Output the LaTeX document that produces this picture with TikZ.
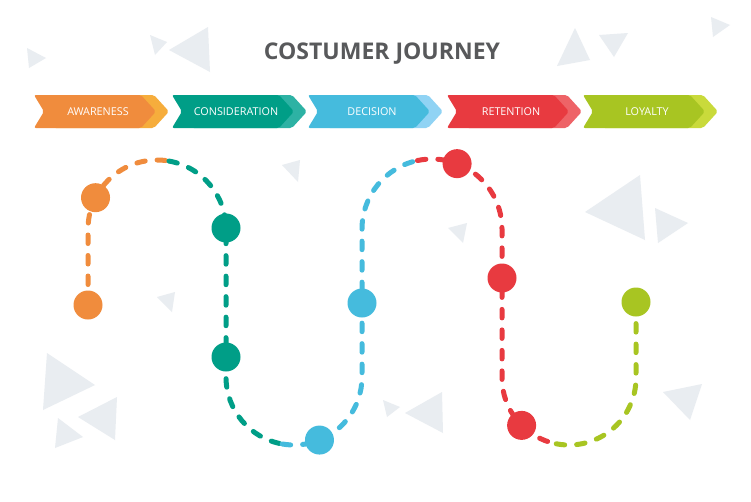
\documentclass[tikz,border=0pt]{standalone}
\usepackage{fontspec}
\setmainfont{Open Sans}
\usetikzlibrary{calc}

\definecolor{titleC}{HTML}{58595B}
\definecolor{decoC}{HTML}{E9EDF1}
\definecolor{awareC}{HTML}{F08C3D}
\definecolor{awareL}{HTML}{F6AD3C}
\definecolor{considC}{HTML}{009E87}
\definecolor{considL}{HTML}{2DB2A4}
\definecolor{decisC}{HTML}{45BBDD}
\definecolor{decisL}{HTML}{90D3F4}
\definecolor{retentC}{HTML}{E83A40}
\definecolor{retentL}{HTML}{EE6367}
\definecolor{loyalC}{HTML}{A8C522}
\definecolor{loyalL}{HTML}{C9DA3B}

\pgfdeclarelayer{bg}
\pgfsetlayers{bg,main}

\begin{document}
\begin{tikzpicture}[x=1pt, y=-1pt,
    dot/.style={circle, inner sep=0pt, minimum size=29pt},
    stage/.style={text=white, font=\fontsize{10.8}{12}\selectfont, inner sep=0pt},
    trail/.style={line width=5pt, dash pattern=on 8.5pt off 12pt, line cap=round},
    deco/.style={fill=decoC},
  ]
  \useasboundingbox (0,0) rectangle (751,501);

  % ----- Title -----
  \node[font=\fontsize{23}{26}\selectfont\bfseries, text=titleC, anchor=base] (title) at (382,59) {COSTUMER JOURNEY};

  % ----- Stage chevrons -----
  \foreach \x/\name/\lbl/\col/\lite in {34/aware/AWARENESS/awareC/awareL,
      172/consid/CONSIDERATION/considC/considL,
      308/decis/DECISION/decisC/decisL,
      447/retent/RETENTION/retentC/retentL,
      583/loyal/LOYALTY/loyalC/loyalL}{
    \fill[\lite, rounded corners=2pt] (\x+20,95) -- (\x+120,95) -- (\x+135,111.5) -- (\x+120,128) -- (\x+20,128) -- cycle;
    \fill[\col, rounded corners=2pt] (\x,95) -- (\x+107,95) -- (\x+122,111.5) -- (\x+107,128) -- (\x,128) -- (\x+10,111.5) -- cycle;
    \node[stage] (\name) at (\x+64,112) {\lbl};
  }

  % ----- Arc centres of the journey -----
  \coordinate (c1) at (157,229);
  \coordinate (c2) at (294,377);
  \coordinate (c3) at (432,229);
  \coordinate (c4) at (569,378);

  % ----- Milestones -----
  \node[dot, fill=awareC] (aw1) at (88,305) {};
  \node[dot, fill=awareC] (aw2) at ($(c1)+(207:69)$) {};
  \node[dot, fill=considC] (cn1) at (226,228) {};
  \node[dot, fill=considC] (cn2) at (226,357) {};
  \node[dot, fill=decisC] (de1) at ($(c2)+(68:68)$) {};
  \node[dot, fill=decisC] (de2) at (362,303) {};
  \node[dot, fill=retentC] (re1) at ($(c3)+(291:70)$) {};
  \node[dot, fill=retentC] (re2) at (502,278) {};
  \node[dot, fill=retentC] (re3) at ($(c4)+(135:67)$) {};
  \node[dot, fill=loyalC] (lo1) at (636,302) {};

  \begin{pgfonlayer}{bg}
    \fill[white] (0,0) rectangle (751,501);
    % background triangles
    \foreach \ax/\ay/\bx/\by/\cx/\cy in {27/48/46/58/29/68, 150/35/167/42/155/55,
        169/50/208/27/210/72, 575/28/557/66/590/60, 599/35/628/33/614/57,
        711/17/730/25/713/37, 585/212/640/175/645/240, 655/208/688/223/658/243,
        47/353/95/385/43/410, 117/397/78/417/115/440, 58/418/83/437/55/448,
        383/400/400/407/387/417, 442/392/405/413/443/433, 663/392/702/384/690/420,
        282/165/300/160/298/182, 448/228/467/223/463/243, 157/297/175/292/172/312}
      \fill[deco] (\ax,\ay) -- (\bx,\by) -- (\cx,\cy) -- cycle;

    % journey trail
    \draw[trail, awareC] (aw1.center) -- (aw1.center |- c1) arc[start angle=180, end angle=280, radius=69];
    \draw[trail, considC] ($(c1)+(280:69)$) arc[start angle=280, end angle=360, radius=69] -- (cn2.center) -- (cn2.center |- c2) arc[start angle=180, end angle=100, radius=68];
    \draw[trail, decisC] ($(c2)+(100:68)$) arc[start angle=100, end angle=0, radius=68] -- (de2.center) -- (de2.center |- c3) arc[start angle=180, end angle=258, radius=70];
    \draw[trail, retentC] ($(c3)+(258:70)$) arc[start angle=258, end angle=360, radius=70] -- (re2.center) -- (re2.center |- c4) arc[start angle=180, end angle=101, radius=67];
    \draw[trail, loyalC] ($(c4)+(101:67)$) arc[start angle=101, end angle=0, radius=67] -- (lo1.center);
  \end{pgfonlayer}
\end{tikzpicture}
\end{document}
